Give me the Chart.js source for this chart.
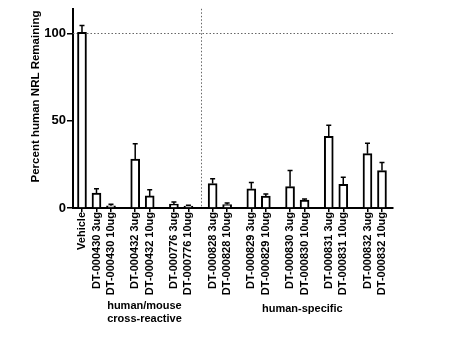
<!DOCTYPE html>
<html>
<head>
<meta charset="utf-8">
<script src="https://cdn.jsdelivr.net/npm/chart.js@4"></script>
<style>
html,body{margin:0;padding:0;background:#fff;}
#wrap{width:474px;height:349px;position:relative;}
</style>
</head>
<body>
<div id="wrap"><canvas id="c" width="474" height="349"></canvas></div>
<script>
// ---- data ----
const compounds = ["DT-000430","DT-000432","DT-000776","DT-000828","DT-000829","DT-000830","DT-000831","DT-000832"];
const doses = [" 3ug", " 10ug"];
const means = [100.5, 8.6, 1.3, 28.0, 6.9, 2.2, 1.1, 14.0, 2.0, 11.0, 6.8, 12.2, 4.5, 41.0, 13.5, 31.1, 21.4];
const sems  = [4.0, 2.4, 0.9, 8.7, 3.6, 1.3, 0.5, 2.7, 0.8, 3.6, 1.2, 9.2, 0.7, 6.4, 4.1, 6.0, 4.6];
const yTicks = [0, 50, 100];
const groupNames = [["human/mouse","cross-reactive"],["human-specific"]];
const groupRanges = [[1,6],[7,16]]; // bar index ranges per group
const referenceLevel = 100;

// ---- build ----
const labels = ["Vehicle"];
compounds.forEach(c => doses.forEach(d => labels.push(c + d)));
const pairGap = 1.67;
const positions = [0];
compounds.forEach((c,k) => { positions.push(1 + k*(1+pairGap)); positions.push(2 + k*(1+pairGap)); });
const dividerPos = (positions[6] + positions[7]) / 2;
const FONT = '"Liberation Sans", Arial, sans-serif';

const extras = {
  id: 'extras',
  beforeDatasetsDraw(chart) {
    const {ctx, chartArea: a, scales: {x, y}} = chart;
    ctx.save();
    ctx.strokeStyle = '#666';
    ctx.lineWidth = 1;
    ctx.setLineDash([1.5, 2]);
    const yy = Math.round(y.getPixelForValue(referenceLevel)) + 0.5;
    ctx.beginPath(); ctx.moveTo(a.left, yy); ctx.lineTo(a.right, yy); ctx.stroke();
    const xx = Math.round(x.getPixelForValue(dividerPos)) + 0.5;
    ctx.beginPath(); ctx.moveTo(xx, a.top); ctx.lineTo(xx, a.bottom); ctx.stroke();
    ctx.restore();
  },
  afterDatasetsDraw(chart) {
    const {ctx, scales: {x, y}} = chart;
    const meta = chart.getDatasetMeta(0);
    ctx.save();
    ctx.strokeStyle = '#000';
    ctx.lineWidth = 1.5;
    meta.data.forEach((el, i) => {
      const top = y.getPixelForValue(means[i] + sems[i]);
      ctx.beginPath();
      ctx.moveTo(el.x, el.y); ctx.lineTo(el.x, top);
      ctx.moveTo(el.x - 2.5, top); ctx.lineTo(el.x + 2.5, top);
      ctx.stroke();
    });
    // y title
    ctx.fillStyle = '#000';
    ctx.font = 'bold 11.5px ' + FONT;
    ctx.textAlign = 'center'; ctx.textBaseline = 'middle';
    ctx.save();
    ctx.translate(36, 96.5);
    ctx.rotate(-Math.PI/2);
    ctx.fillText('Percent human NRL Remaining', 0, 0);
    ctx.restore();
    // group labels
    ctx.font = 'bold 11px ' + FONT;
    groupNames.forEach((lines, g) => {
      const [s, e] = groupRanges[g];
      const cx = (x.getPixelForValue(positions[s]) + x.getPixelForValue(positions[e])) / 2;
      const startY = lines.length > 1 ? 306 : 308.5;
      lines.forEach((t, j) => ctx.fillText(t, cx + (g === 1 ? 5 : 2), startY + j*12.5));
    });
    ctx.restore();
  }
};

new Chart(document.getElementById('c'), {
  type: 'bar',
  data: {
    datasets: [{
      data: positions.map((p, i) => ({x: p, y: means[i]})),
      backgroundColor: '#fff',
      borderColor: '#000',
      borderWidth: 2,
      barThickness: 9,
      borderSkipped: 'bottom'
    }]
  },
  options: {
    responsive: false,
    animation: false,
    devicePixelRatio: 1,
    layout: {padding: {top: 5, right: 81, left: 0, bottom: 0}},
    plugins: {legend: {display: false}, tooltip: {enabled: false}},
    scales: {
      x: {
        type: 'linear',
        offset: false,
        min: -0.62, max: 21.45,
        afterBuildTicks: s => { s.ticks = positions.map(v => ({value: v})); },
        afterFit: s => { s.height = 141; },
        grid: {offset: false, drawOnChartArea: false, color: '#000', lineWidth: 1.5, tickLength: 4},
        border: {color: '#000', width: 2},
        ticks: {
          autoSkip: false, minRotation: 90, maxRotation: 90, padding: 0,
          color: '#000', font: {family: FONT, size: 11, weight: 'bold'},
          callback: (v, i) => labels[i]
        }
      },
      y: {
        min: 0, max: 114,
        afterBuildTicks: s => { s.ticks = yTicks.map(v => ({value: v})); },
        afterFit: s => { s.width = 73; },
        grid: {drawOnChartArea: false, color: '#000', lineWidth: 1.5, tickLength: 6},
        border: {color: '#000', width: 2},
        ticks: {padding: 1, color: '#000', font: {family: FONT, size: 13, weight: 'bold'}}
      }
    }
  },
  plugins: [extras]
});
</script>
</body>
</html>
